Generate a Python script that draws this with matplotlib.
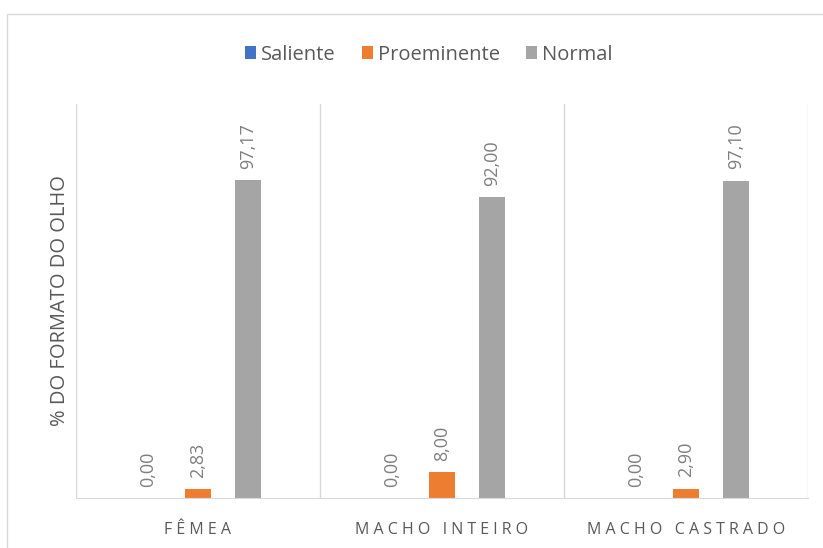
import numpy as np
import matplotlib.pyplot as plt
from matplotlib.patches import Rectangle

# Data
categories = ["FÊMEA", "MACHO INTEIRO", "MACHO CASTRADO"]
series_names = ["Saliente", "Proeminente", "Normal"]
saliente = [0.00, 0.00, 0.00]
proeminente = [2.83, 8.00, 2.90]
normal = [97.17, 92.00, 97.10]
colors = ["#4472C4", "#ED7D31", "#A5A5A5"]

plt.rcParams['font.family'] = ['Open Sans', 'DejaVu Sans']

fig = plt.figure(figsize=(8.23, 5.48), dpi=100)
ax = fig.add_axes([76 / 823, 50 / 548, 732 / 823, 394 / 548])

# outer chart frame (cut off at right/bottom as in the reference)
fig.patches.append(Rectangle((7 / 823, -0.1), 1.2, (548 - 14) / 548 + 0.1,
                             transform=fig.transFigure, fill=False,
                             edgecolor="#d9d9d9", linewidth=1))

x = np.arange(len(categories))
w = 0.107
step = 0.205
for i, (vals, name) in enumerate(zip([saliente, proeminente, normal], series_names)):
    pos = x + (i - 1) * step
    bars = ax.bar(pos, vals, width=w, color=colors[i], label=name, zorder=2)
    for b, v in zip(bars, vals):
        ax.annotate(f"{v:.2f}".replace(".", ","),
                    (b.get_x() + b.get_width() / 2, b.get_height()),
                    xytext=(0, 8), textcoords="offset points",
                    rotation=90, ha="center", va="bottom",
                    fontsize=13, color="#7f7f7f")

ax.set_xlim(-0.5, 2.5)
ax.set_ylim(0, 120.5)
for s in ["top", "right", "left"]:
    ax.spines[s].set_visible(False)
ax.spines["bottom"].set_color("#d9d9d9")
for b in [-0.5, 0.5, 1.5, 2.5]:
    ax.axvline(b, color="#d9d9d9", linewidth=1, zorder=1)

ax.set_yticks([])
ax.set_xticks(x)
# letter-spaced category labels, like the original
spaced = ["   ".join(" ".join(word) for word in lab.split()) for lab in categories]
ax.set_xticklabels(spaced, fontsize=11.5, color="#595959")
ax.tick_params(axis="x", length=0, pad=17)
ax.set_ylabel("% DO FORMATO DO OLHO", fontsize=14.5, color="#595959", labelpad=4)

ax.legend(loc="center", bbox_to_anchor=(0.482, 1.125), ncol=3, frameon=False,
          fontsize=14.5, handlelength=0.55, handleheight=0.6, handletextpad=0.25,
          columnspacing=1.3, labelcolor="#595959")

fig.savefig("out.png", dpi=100)
